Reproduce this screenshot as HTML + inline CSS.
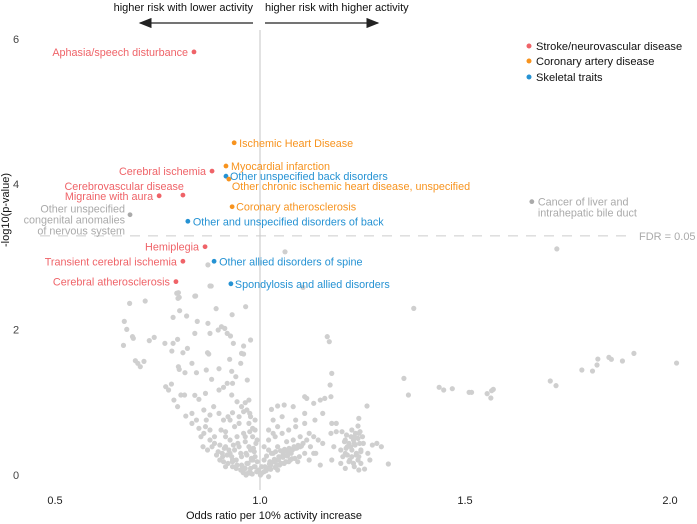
<!DOCTYPE html>
<html><head><meta charset="utf-8"><style>
html,body{margin:0;padding:0;background:#fff;}
svg{display:block;font-family:"Liberation Sans",Arial,sans-serif;}
</style></head><body>
<svg id="chart" width="697" height="524" viewBox="0 0 697 524" xmlns="http://www.w3.org/2000/svg">
<defs><marker id="ah" markerWidth="10" markerHeight="8" refX="9" refY="4" orient="auto"><path d="M0,0 L10,4 L0,8 z" fill="#222"/></marker></defs>
<g id="axes"></g>
<g id="points"></g>
<g id="hl"></g>
<text x="253" y="11" text-anchor="end" font-size="11" fill="#111">higher risk with lower activity</text>
<text x="265" y="11" font-size="11" fill="#111">higher risk with higher activity</text>
<line x1="253" y1="23" x2="140" y2="23" stroke="#222" stroke-width="1.3" marker-end="url(#ah)"/>
<line x1="265" y1="23" x2="378" y2="23" stroke="#222" stroke-width="1.3" marker-end="url(#ah)"/>
<g>
<circle cx="529" cy="46" r="2.5" fill="#ef6368"/><text x="536" y="50" font-size="11.1" fill="#111">Stroke/neurovascular disease</text>
<circle cx="529" cy="61" r="2.5" fill="#f7931e"/><text x="536" y="65" font-size="11.1" fill="#111">Coronary artery disease</text>
<circle cx="529" cy="77" r="2.5" fill="#2592d3"/><text x="536" y="81" font-size="11.1" fill="#111">Skeletal traits</text>
</g>
</svg>
<script>
const xTicks=[0.5,1.0,1.5,2.0];
const xTickLabels=["0.5","1.0","1.5","2.0"];
const yTicks=[0,2,4,6];
const fdrValue=3.29;
const hlX=[0.839,0.937,0.917,0.883,0.917,0.924,0.812,0.754,0.683,0.932,0.824,0.866,0.812,0.888,0.795,0.929,1.663];
const hlY=[5.82,4.57,4.25,4.18,4.11,4.07,3.85,3.84,3.58,3.69,3.49,3.14,2.94,2.94,2.66,2.63,3.76];
const hlGroup=["s","c","c","s","k","c","s","s","o","c","k","s","s","k","s","k","o"];
const hlLabel=["Aphasia/speech disturbance","Ischemic Heart Disease","Myocardial infarction","Cerebral ischemia","Other unspecified back disorders","Other chronic ischemic heart disease, unspecified","Cerebrovascular disease","Migraine with aura","Other unspecified|congenital anomalies|of nervous system","Coronary atherosclerosis","Other and unspecified disorders of back","Hemiplegia","Transient cerebral ischemia","Other allied disorders of spine","Cerebral atherosclerosis","Spondylosis and allied disorders","Cancer of liver and|intrahepatic bile duct"];
const zx=[473,400,402,438,292,326,549,403,484,519,388,418,280,286,298,300,278,336,346,370,386,388,398,410,420,436,442,466,470,465,467,488,496,503,508,516,514,522,545,540,545,538,560,305,310,316,324,400,402,430,415,440,462,474,490,518,520,527,553,372,378,385,390,398,406,414,436,446,460,490,500,508,518,530,540,548,556,416,430,440,456,462,470,478,490,500,510,520,535,545,560,570,430,446,456,470,480,495,505,515,530,545,558,565,570,575,475,488,498,505,515,525,535,540,550,560,565,570,575,555,540,520,500,492,545,560,570,575,582,590,598,605,612,620,628,610,600,620,635,650,660,670,680,640,655,670,685,600,615,630,645,660,620,610,630,660,680,690,700,710,720,705,715,740,745,750,750,740,738,720,703,680,655,635,620,606,610,600,590,590,645,665,690,700,600,620,585,550,560,520,505,680,685,700,715,725,738,736,740,730,735,818,800,798,785,790,800,770,775,785,770,780,790,800,770,760,765,805,810,800,820,825,830,840,850,866,760,790,795,805,813,922,900,910,978,988,1007,1045,1050,1085,1093,1095,1098,1225,1237,1295,1318,1328,1330,1355,1360,1385,1410,1505,
480,492,502,512,522,532,548,556,566,572,485,497,508,518,528,538,552,562,568,510,520,530,542,552,562,528,538,548,558,568,578,544,554,564,574,585,595,605,615,625,635,592,602,612,622,632,642,652,596,606,616,626,636,646,656,666,676,603,613,623,633,643,653,663,673,693,618,628,638,648,658,668,763,773,783,793,803,768,778,788,798,808,772,782,792,802,775,785,795,805,778,788,798,460,450,470,455,465,525,535,515,505,548,556,565,558,552];
const zy=[18,38,52,48,70,63,80,92,86,104,112,108,124,148,170,175,196,182,172,190,213,190,178,218,205,160,124,130,160,218,222,150,140,145,160,168,238,190,198,220,222,250,180,242,250,260,244,260,268,250,278,278,270,298,266,274,310,290,300,320,330,312,360,380,345,345,346,358,340,330,322,310,345,365,380,368,360,408,400,420,390,420,405,380,400,420,410,398,410,395,410,420,430,445,460,450,470,450,470,480,470,460,455,470,450,480,500,515,530,500,520,510,500,530,520,510,540,530,545,550,555,540,545,540,570,565,560,575,585,575,565,555,545,540,530,520,510,500,510,520,505,500,520,485,480,470,480,480,470,460,450,440,440,420,410,420,430,460,470,480,490,520,555,540,500,455,430,430,460,400,420,400,380,375,378,388,460,450,540,500,545,545,540,520,590,570,560,585,580,560,560,350,355,370,360,355,350,315,280,170,185,378,415,438,450,470,460,480,500,510,520,540,560,570,565,550,530,510,490,530,520,540,495,490,500,552,510,490,525,550,567,85,295,345,322,330,326,337,337,341,354,332,328,303,317,270,273,255,237,232,238,243,220,249,
490,495,505,510,495,490,485,500,505,490,525,520,525,530,540,520,525,535,515,550,545,555,560,550,540,565,570,565,575,560,570,578,580,582,575,580,572,568,562,555,550,560,552,545,540,532,528,536,528,520,515,512,508,505,500,496,490,545,538,530,522,516,510,504,498,500,555,550,545,540,535,530,455,465,470,460,455,485,490,480,475,470,505,500,495,490,525,530,520,515,545,550,540,440,470,480,500,510,440,430,420,455,470,430,445,400,390];
// background odds ratios / -log10 p derived from readings
const bgX=zx.map(v=>+(1+(v-581)*0.0011).toFixed(3)).concat([1.061,1.724,0.873,0.878,1.105,0.797,0.800,0.841]);
const bgY=zy.map(v=>+(2.682-v*0.004585).toFixed(3)).concat([3.07,3.11,2.89,2.60,2.58,2.50,2.43,2.46]);

const NS="http://www.w3.org/2000/svg";
const X=v=>260+(v-1)*410;
const Y=v=>475-v*72.7;
const col={s:"#ef6368",c:"#f7931e",k:"#2592d3",o:"#aaaaaa"};
function mk(tag,attrs,parent){const e=document.createElementNS(NS,tag);for(const k in attrs)e.setAttribute(k,attrs[k]);parent.appendChild(e);return e;}
const axes=document.getElementById('axes');
let vl=mk('line',{x1:X(1),x2:X(1),y1:30,y2:490,stroke:"#cfcfcf","stroke-width":1.2},axes);


let fl=mk('line',{x1:40,x2:632,y1:Y(fdrValue),y2:Y(fdrValue),stroke:"#cccccc","stroke-width":1,"stroke-dasharray":"10,8"},axes);


let ft=mk('text',{x:639,y:Y(fdrValue)+4,"font-size":11,fill:"#aaa"},axes);ft.textContent="FDR = 0.05";


xTicks.forEach((v,i)=>{const t=mk('text',{x:X(v),y:504,"text-anchor":"middle","font-size":11,fill:"#222"},axes);t.textContent=xTickLabels[i];

});
yTicks.forEach(v=>{const t=mk('text',{x:16,y:Y(v)+4,"text-anchor":"middle","font-size":11,fill:"#444"},axes);t.textContent=String(v);

});
let xt=mk('text',{x:274,y:519,"text-anchor":"middle","font-size":11,fill:"#111"},axes);xt.textContent="Odds ratio per 10% activity increase";


let yt=mk('text',{x:0,y:0,"text-anchor":"middle","font-size":11,fill:"#111",transform:"translate(9,210) rotate(-90)"},axes);yt.textContent="-log10(p-value)";


const pts=document.getElementById('points');
bgX.forEach((v,i)=>{const c=mk('circle',{cx:X(v),cy:Y(bgY[i]),r:2.6,fill:"#cfcfcf"},pts);

});
// label placement (styling): anchor, dx, dy
const lab=[["end",-6,4],["start",5,4],["start",5,4],["end",-6,4],["start",4,4],["start",3,11],["end",1,-5],["end",-6,4],["end",-5,-2],["start",4,4],["start",5,4],["end",-6,4],["end",-6,4],["start",5,4],["end",-6,4],["start",4,4],["start",6,4]];
const hl=document.getElementById('hl');
hlX.forEach((v,i)=>{const cx=X(v),cy=Y(hlY[i]),c=col[hlGroup[i]];
const d=mk('circle',{cx:cx,cy:cy,r:2.4,fill:c},hl);


const [a,dx,dy]=lab[i];
hlLabel[i].split('|').forEach((ln,j)=>{const t=mk('text',{x:cx+dx,y:cy+dy+j*11,"text-anchor":a,"font-size":10.8,fill:c},hl);t.textContent=ln;

});
});
</script>
</body></html>
